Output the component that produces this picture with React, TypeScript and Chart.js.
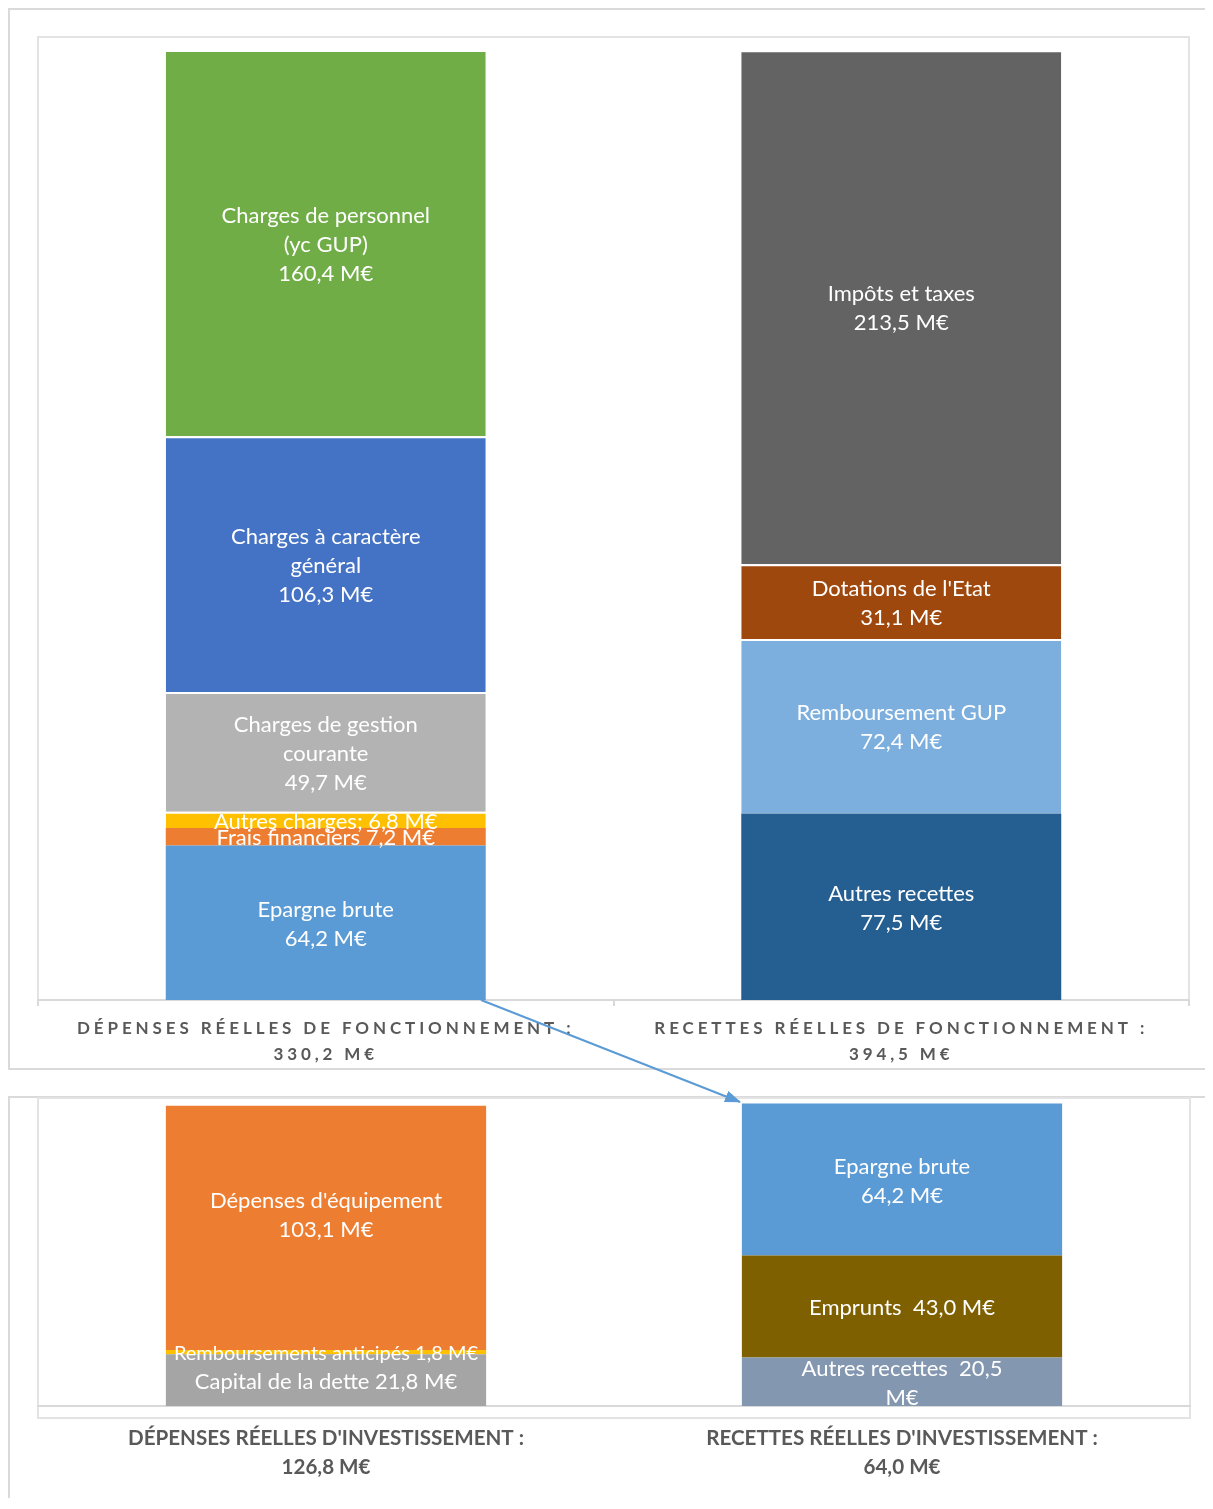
import React, { useEffect, useRef } from "react";
import { Chart, registerables } from "chart.js";

Chart.register(...registerables);

// ---------- DATA ----------
const fonctCategories = [
  ["DÉPENSES RÉELLES DE FONCTIONNEMENT :", "330,2 M€"],
  ["RECETTES RÉELLES DE FONCTIONNEMENT :", "394,5 M€"],
];
const fonctSeries = [
  "Epargne brute",
  "Frais financiers",
  "Autres charges",
  "Charges de gestion courante",
  "Charges à caractère général",
  "Charges de personnel (yc GUP)",
  "Autres recettes",
  "Remboursement GUP",
  "Dotations de l'Etat",
  "Impôts et taxes",
];
const fonctValues = [64.2, 7.2, 6.8, 49.7, 106.3, 160.4, 77.5, 72.4, 31.1, 213.5];
const fonctColumn = [0, 0, 0, 0, 0, 0, 1, 1, 1, 1];
const fonctLabels = [
  ["Epargne brute", "64,2 M€"],
  ["Frais financiers 7,2 M€"],
  ["Autres charges; 6,8 M€"],
  ["Charges de gestion", "courante", "49,7 M€"],
  ["Charges à caractère", "général", "106,3 M€"],
  ["Charges de personnel", "(yc GUP)", "160,4 M€"],
  ["Autres recettes", "77,5 M€"],
  ["Remboursement GUP", "72,4 M€"],
  ["Dotations de l'Etat", "31,1 M€"],
  ["Impôts et taxes", "213,5 M€"],
];
const fonctMax = 400;

const investCategories = [
  ["DÉPENSES RÉELLES D'INVESTISSEMENT :", "126,8 M€"],
  ["RECETTES RÉELLES D'INVESTISSEMENT :", "64,0 M€"],
];
const investSeries = [
  "Capital de la dette",
  "Remboursements anticipés",
  "Dépenses d'équipement",
  "Autres recettes",
  "Emprunts",
  "Epargne brute",
];
const investValues = [21.8, 1.8, 103.1, 20.5, 43.0, 64.2];
const investColumn = [0, 0, 0, 1, 1, 1];
const investLabels = [
  ["Capital de la dette 21,8 M€"],
  ["Remboursements anticipés 1,8 M€"],
  ["Dépenses d'équipement", "103,1 M€", ""],
  ["Autres recettes  20,5", "M€"],
  ["Emprunts  43,0 M€"],
  ["Epargne brute", "64,2 M€"],
];
const investMax = 130;

// ---------- STYLES ----------
const fonctColors = ["#5b9bd5", "#ed7d31", "#ffc000", "#b3b3b3", "#4472c4", "#70ad47", "#255e91", "#7cafdd", "#9e480e", "#636363"];
const fonctTopGap = [0, 0, 2, 2, 2, 2, 0, 2, 2, 2];
const fonctLabelSize = [22, 22, 22, 22, 22, 22, 22, 22, 22, 22];
const investColors = ["#a5a5a5", "#ffc000", "#ed7d31", "#8497b0", "#7f6000", "#5b9bd5"];
const investTopGap = [0, 0, 0, 0, 0, 0];
const investLabelSize = [22, 20, 22, 22, 22, 22];

const FONT = "Lato, 'Open Sans', sans-serif";

const framePlugin = {
  id: "frame",
  beforeDraw(chart: any, _args: any, opts: any) {
    const { ctx, chartArea: a } = chart;
    ctx.save();
    ctx.strokeStyle = "#e3e3e3";
    ctx.lineWidth = 2;
    ctx.strokeRect(a.left, a.top, a.right - a.left, a.bottom + (opts.extraBottom || 0) - a.top);
    ctx.restore();
    ctx.letterSpacing = opts.letterSpacing || "0px";
  },
  beforeDatasetsDraw(chart: any) {
    chart.ctx.letterSpacing = "0px";
  },
  afterDatasetsDraw(chart: any) {
    const ctx = chart.ctx;
    chart.data.datasets.forEach((ds: any, i: number) => {
      const meta = chart.getDatasetMeta(i);
      meta.data.forEach((el: any, j: number) => {
        if (ds.data[j] == null) return;
        const { x, y, base } = el.getProps(["x", "y", "base"], true);
        const cy = (y + base) / 2 + 1.5;
        const lines: string[] = ds.labelLines;
        const size: number = ds.labelSize;
        const lh = 29;
        ctx.save();
        ctx.letterSpacing = "0px";
        ctx.font = `${size}px ${FONT}`;
        ctx.fillStyle = "#ffffff";
        ctx.textAlign = "center";
        ctx.textBaseline = "middle";
        lines.forEach((ln, k) => {
          ctx.fillText(ln, x, cy + (k - (lines.length - 1) / 2) * lh);
        });
        ctx.restore();
      });
    });
  },
};

function buildConfig(
  categories: string[][],
  series: string[],
  values: number[],
  column: number[],
  labels: string[][],
  colors: string[],
  gaps: number[],
  sizes: number[],
  max: number,
  pad: { left: number; right: number; top: number },
  axisHeight: number,
  tickFont: { size: number; lineHeight: number },
  tickPadding: number,
  drawTicks: boolean,
  letterSpacing: string,
  extraBottom: number
): any {
  return {
    type: "bar",
    data: {
      labels: categories,
      datasets: series.map((name, i) => ({
        label: name,
        data: column[i] === 0 ? [values[i], null] : [null, values[i]],
        backgroundColor: colors[i],
        borderColor: "#ffffff",
        borderWidth: { top: gaps[i], bottom: 0, left: 0, right: 0 },
        borderSkipped: false,
        categoryPercentage: 1,
        barPercentage: 0.556,
        labelLines: labels[i],
        labelSize: sizes[i],
      })),
    },
    options: {
      animation: false,
      responsive: false,
      devicePixelRatio: 1,
      events: [],
      layout: { padding: { left: pad.left, right: pad.right, top: pad.top, bottom: 0 } },
      plugins: {
        legend: { display: false },
        tooltip: { enabled: false },
        frame: { letterSpacing, extraBottom },
      },
      scales: {
        x: {
          stacked: true,
          offset: true,
          afterFit: (scale: any) => {
            scale.height = axisHeight;
          },
          grid: {
            display: true,
            offset: true,
            drawOnChartArea: false,
            drawTicks: drawTicks,
            tickLength: 6,
            color: "#d9d9d9",
            lineWidth: 2,
          },
          border: { display: true, color: "#d9d9d9", width: 2 },
          ticks: {
            maxRotation: 0,
            minRotation: 0,
            autoSkip: false,
            padding: tickPadding,
            color: "#595959",
            font: { family: FONT, size: tickFont.size, weight: "bold", lineHeight: tickFont.lineHeight + "px" },
          },
        },
        y: {
          stacked: true,
          display: false,
          min: 0,
          max: max,
        },
      },
    },
    plugins: [framePlugin],
  };
}

function ChartCanvas({ config, width, height, style }: { config: any; width: number; height: number; style: any }) {
  const ref = useRef<HTMLCanvasElement | null>(null);
  useEffect(() => {
    if (!ref.current) return;
    const chart = new Chart(ref.current, config);
    return () => chart.destroy();
  }, [config]);
  return <canvas ref={ref} width={width} height={height} style={{ ...style, width, height }} />;
}

const topConfig = buildConfig(
  fonctCategories, fonctSeries, fonctValues, fonctColumn, fonctLabels,
  fonctColors, fonctTopGap, fonctLabelSize, fonctMax,
  { left: 30, right: 24, top: 29 }, 88, { size: 17, lineHeight: 26 }, 10, true, "3.9px", 0
);

const bottomConfig = buildConfig(
  investCategories, investSeries, investValues, investColumn, investLabels,
  investColors, investTopGap, investLabelSize, investMax,
  { left: 30, right: 23, top: 5 }, 92, { size: 20.6, lineHeight: 29 }, 18, false, "0px", 12
);

export default function App() {
  return (
    <div style={{ position: "relative", width: 1205, height: 1490, overflow: "hidden", background: "#fff" }}>
      <div
        style={{
          position: "absolute", left: 0, top: 0, width: 1300, height: 1062,
          border: "2px solid #dadada", boxSizing: "border-box",
        }}
      />
      <div
        style={{
          position: "absolute", left: 0, top: 1088, width: 1300, height: 600,
          border: "2px solid #dadada", boxSizing: "border-box",
        }}
      />
      <ChartCanvas config={topConfig} width={1205} height={1080} style={{ position: "absolute", left: 0, top: 0 }} />
      <ChartCanvas config={bottomConfig} width={1205} height={405} style={{ position: "absolute", left: 0, top: 1085 }} />
      <svg width={1205} height={1490} style={{ position: "absolute", left: 0, top: 0, pointerEvents: "none" }}>
        <defs>
          <marker id="ah" markerWidth="16" markerHeight="12" refX="15" refY="6" orient="auto" markerUnits="userSpaceOnUse">
            <path d="M0,0 L16,6 L0,12 Z" fill="#5b9bd5" />
          </marker>
        </defs>
        <line x1={473} y1={992} x2={732} y2={1094} stroke="#5b9bd5" strokeWidth={2} markerEnd="url(#ah)" />
      </svg>
    </div>
  );
}
